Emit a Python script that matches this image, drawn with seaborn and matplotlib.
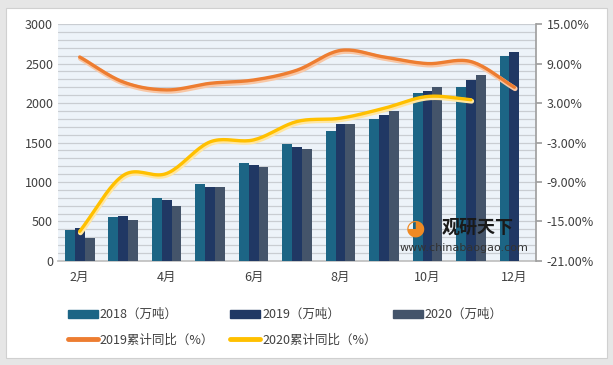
import numpy as np
import pandas as pd
import seaborn as sns
import matplotlib.pyplot as plt
import matplotlib.patheffects as pe
from matplotlib.patches import Rectangle, Patch
from matplotlib.lines import Line2D
from matplotlib.ticker import MultipleLocator

months = ["2月", "3月", "4月", "5月", "6月", "7月", "8月", "9月", "10月", "11月", "12月"]
tick_labels = ["2月", "4月", "6月", "8月", "10月", "12月"]
out_2018 = [395, 560, 795, 980, 1245, 1480, 1650, 1800, 2130, 2200, 2600]
out_2019 = [420, 575, 770, 935, 1215, 1445, 1740, 1845, 2150, 2295, 2650]
out_2020 = [295, 515, 700, 935, 1190, 1420, 1740, 1900, 2200, 2350, np.nan]
yoy_2019 = [10.0, 6.2, 5.0, 6.0, 6.5, 8.0, 11.0, 10.0, 9.0, 9.3, 5.4]
yoy_2020 = [-16.5, -8.0, -7.7, -2.9, -2.6, 0.2, 0.7, 2.2, 4.0, 3.5]

bar_names = ["2018（万吨）", "2019（万吨）", "2020（万吨）"]
bar_colors = ["#1c6585", "#203864", "#44546a"]
orange, yellow = "#ed7d31", "#ffc000"

sns.set_theme(style="white")
plt.rcParams["font.family"] = ["Noto Sans CJK SC", "DejaVu Sans"]
text_col = "#404040"


def smooth(y, n=20):
    # catmull-rom curve through the points (like excel's smoothed line)
    y = np.asarray(y, float)
    x = np.arange(len(y), dtype=float)
    px = np.concatenate([[2 * x[0] - x[1]], x, [2 * x[-1] - x[-2]]])
    py = np.concatenate([[2 * y[0] - y[1]], y, [2 * y[-1] - y[-2]]])
    xs, ys = [], []
    t = np.linspace(0, 1, n, endpoint=False)
    for i in range(1, len(px) - 2):
        for arr, out in ((px, xs), (py, ys)):
            p0, p1, p2, p3 = arr[i - 1:i + 3]
            out.extend(0.5 * (2 * p1 + (-p0 + p2) * t + (2 * p0 - 5 * p1 + 4 * p2 - p3) * t ** 2
                              + (-p0 + 3 * p1 - 3 * p2 + p3) * t ** 3))
    xs.append(x[-1])
    ys.append(y[-1])
    return np.array(xs), np.array(ys)


df = pd.DataFrame({"month": months * 3,
                   "series": np.repeat(bar_names, len(months)),
                   "value": out_2018 + out_2019 + out_2020})

fig = plt.figure(figsize=(6.13, 3.65), dpi=100)
fig.patch.set_facecolor("#e6e6e6")
fig.add_artist(Rectangle((0.01, 0.02), 0.98, 0.958, transform=fig.transFigure,
                         facecolor="white", edgecolor="#d0d0d0", lw=0.8, zorder=0))
ax = fig.add_axes([0.0946, 0.285, 0.78, 0.649])
ax.set_facecolor("#edf3f9")

sns.barplot(data=df, x="month", y="value", hue="series", order=months,
            hue_order=bar_names, palette=bar_colors, saturation=1,
            width=0.68, ax=ax, legend=False, zorder=3, edgecolor="none", linewidth=0)
ax.set_xlim(-0.5, len(months) - 0.5)
ax.set_ylim(0, 3000)
ax.yaxis.set_major_locator(MultipleLocator(500))
ax.yaxis.set_minor_locator(MultipleLocator(100))
ax.grid(True, which="both", axis="y", color="#c9cdd2", lw=0.9, zorder=0)
ax.set_axisbelow(True)
ax.set_xticks(range(0, len(months), 2))
ax.set_xticklabels(tick_labels)
ax.set_xlabel("")
ax.set_ylabel("")
ax.tick_params(axis="both", which="both", length=0, labelsize=9, colors=text_col)
ax.tick_params(axis="x", pad=7)
for s in ["top", "left", "right"]:
    ax.spines[s].set_visible(False)
ax.spines["bottom"].set_color("#c0c0c0")

ax2 = ax.twinx()
ax2.set_ylim(-21, 15)
ax2.set_yticks(np.arange(-21, 16, 6))
ax2.set_yticklabels([f"{v:.2f}%" for v in np.arange(-21, 16, 6)])
ax2.tick_params(axis="y", length=4, color="#a0a0a0", labelsize=9, colors=text_col)
for s in ["top", "left", "bottom"]:
    ax2.spines[s].set_visible(False)
ax2.spines["right"].set_color("#a0a0a0")

for vals, col, light in ((yoy_2019, orange, "#f8c6a4"), (yoy_2020, yellow, "#ffe6a0")):
    xs, ys = smooth(vals)
    sns.lineplot(x=xs, y=ys, sort=False, ax=ax2, color=col, lw=2.4, zorder=5,
                 solid_capstyle="round",
                 path_effects=[pe.Stroke(linewidth=3.6, foreground=light, offset=(0.5, -1.0)),
                               pe.Normal()])

# watermark
ax2.text(0.803, 0.142, "观研天下", transform=ax2.transAxes, fontsize=13,
         fontweight="bold", color="#1a1a1a", va="center", zorder=6)
ax2.text(0.715, 0.056, "www.chinabaogao.com", transform=ax2.transAxes, fontsize=8,
         color="#333333", family=["DejaVu Sans"], va="center", zorder=6)
ax2.text(0.747, 0.135, "◕", transform=ax2.transAxes, fontsize=16, color="#f08a24",
         family=["DejaVu Sans"], ha="center", va="center", zorder=6)

handles = [Patch(color=bar_colors[0]),
           Line2D([], [], color=orange, lw=3.5),
           Patch(color=bar_colors[1]),
           Line2D([], [], color=yellow, lw=3.5),
           Patch(color=bar_colors[2])]
labels = [bar_names[0], "2019累计同比（%）", bar_names[1], "2020累计同比（%）", bar_names[2]]
leg = fig.legend(handles, labels, ncol=3, loc="upper left", bbox_to_anchor=(0.09, 0.19),
                 fontsize=9, frameon=True, fancybox=False, shadow=False,
                 handlelength=2.4, handleheight=0.6, handletextpad=0.15,
                 columnspacing=1.3, labelspacing=1.0, borderpad=0.5)
leg.get_frame().set_edgecolor("white")
for t in leg.get_texts():
    t.set_color(text_col)

fig.savefig("out.png", dpi=100, facecolor=fig.get_facecolor())
